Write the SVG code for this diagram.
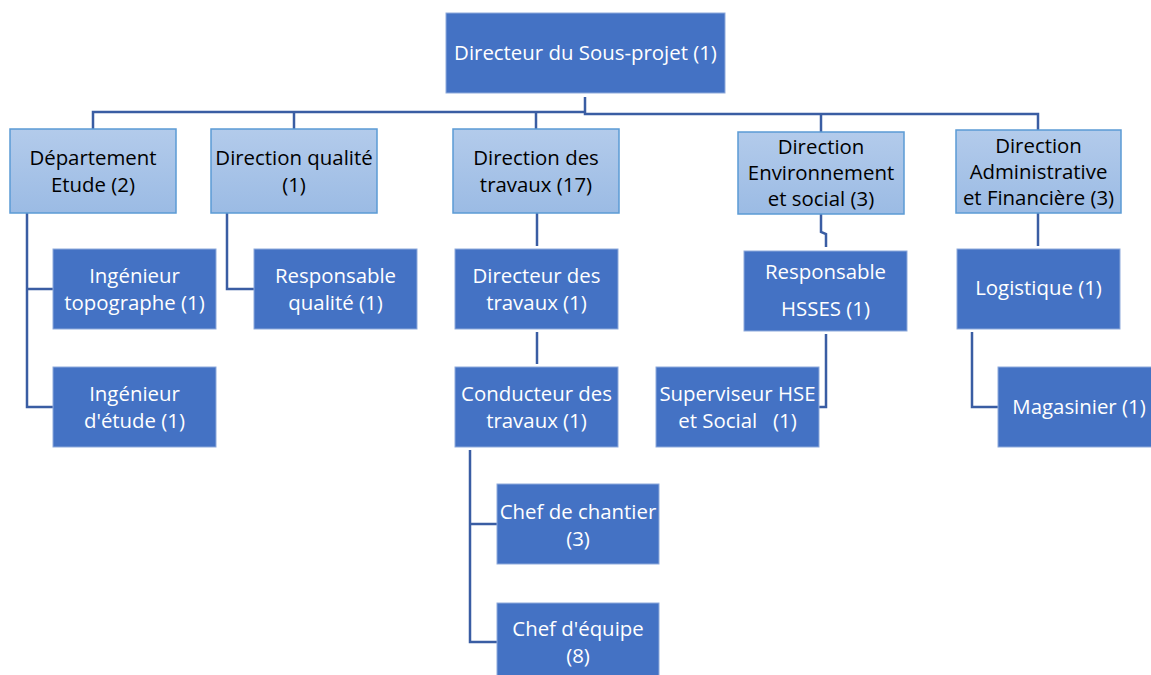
<svg xmlns="http://www.w3.org/2000/svg" width="1151" height="675" viewBox="0 0 1151 675">
<defs>
<linearGradient id="lg" x1="0" y1="0" x2="0" y2="1">
<stop offset="0" stop-color="#B3CBEB"/>
<stop offset="1" stop-color="#9BBBE4"/>
</linearGradient>
<style>
.dk{fill:#4472C4;stroke:#8EAADB;stroke-width:1}
.lt{fill:url(#lg);stroke:#5B9BD5;stroke-width:1.5}
text{font-family:"Open Sans","Liberation Sans",Arial,sans-serif;font-size:20.4px;text-anchor:middle;white-space:pre}
.w{fill:#FFFFFF}
.b{fill:#000000}
.c{fill:none;stroke:#3A5DA3;stroke-width:2.5}
</style>
</defs>
<rect width="1151" height="675" fill="#FFFFFF"/>
<g id="connectors">
<path class="c" d="M585,97 V114 H1038 V130"/>
<path class="c" d="M585,112 H93 V129"/>
<path class="c" d="M294,112 V129"/>
<path class="c" d="M536,112 V129"/>
<path class="c" d="M821,114 V132"/>
<path class="c" d="M27,213 V407 H53 M27,289 H53"/>
<path class="c" d="M227,213 V289 H254"/>
<path class="c" d="M537,213 V246"/>
<path class="c" d="M537,332 V364"/>
<path class="c" d="M470,450 V642 H497 M470,524 H497"/>
<path class="c" d="M821,214 V232 L826,234 V247"/>
<path class="c" d="M826,334 V407 H819"/>
<path class="c" d="M1038,213 V246"/>
<path class="c" d="M972,332 V407 H998"/>
</g>
<g id="n-directeur">
<rect class="dk" x="446" y="13" width="279" height="80"/>
<text class="w" x="585.5" y="60">Directeur du Sous-projet (1)</text>
</g>
<g id="n-dept-etude">
<rect class="lt" x="10" y="129" width="166" height="84"/>
<text class="b" x="93" y="165">Département</text>
<text class="b" x="93" y="192">Etude (2)</text>
</g>
<g id="n-dir-qualite">
<rect class="lt" x="211" y="129" width="166" height="84"/>
<text class="b" x="294" y="165">Direction qualité</text>
<text class="b" x="294" y="192">(1)</text>
</g>
<g id="n-dir-travaux">
<rect class="lt" x="453" y="129" width="166" height="84"/>
<text class="b" x="536" y="165">Direction des</text>
<text class="b" x="536" y="192">travaux (17)</text>
</g>
<g id="n-dir-env">
<rect class="lt" x="738" y="132" width="166" height="82"/>
<text class="b" x="821" y="154">Direction</text>
<text class="b" x="821" y="180">Environnement</text>
<text class="b" x="821" y="206">et social (3)</text>
</g>
<g id="n-dir-admin">
<rect class="lt" x="956" y="130" width="165" height="83"/>
<text class="b" x="1038.5" y="153">Direction</text>
<text class="b" x="1038.5" y="179">Administrative</text>
<text class="b" x="1038.5" y="205">et Financière (3)</text>
</g>
<g id="n-ing-topo">
<rect class="dk" x="53" y="249" width="163" height="80"/>
<text class="w" x="134.5" y="283">Ingénieur</text>
<text class="w" x="134.5" y="310">topographe (1)</text>
</g>
<g id="n-ing-etude">
<rect class="dk" x="53" y="367" width="163" height="80"/>
<text class="w" x="134.5" y="401">Ingénieur</text>
<text class="w" x="134.5" y="428">d'étude (1)</text>
</g>
<g id="n-resp-qualite">
<rect class="dk" x="254" y="249" width="163" height="80"/>
<text class="w" x="335.5" y="283">Responsable</text>
<text class="w" x="335.5" y="310">qualité (1)</text>
</g>
<g id="n-directeur-travaux">
<rect class="dk" x="455" y="249" width="163" height="80"/>
<text class="w" x="536.5" y="283">Directeur des</text>
<text class="w" x="536.5" y="310">travaux (1)</text>
</g>
<g id="n-conducteur">
<rect class="dk" x="455" y="367" width="163" height="80"/>
<text class="w" x="536.5" y="401">Conducteur des</text>
<text class="w" x="536.5" y="428">travaux (1)</text>
</g>
<g id="n-chef-chantier">
<rect class="dk" x="497" y="484" width="162" height="80"/>
<text class="w" x="578" y="519">Chef de chantier</text>
<text class="w" x="578" y="546">(3)</text>
</g>
<g id="n-chef-equipe">
<rect class="dk" x="497" y="603" width="162" height="80"/>
<text class="w" x="578" y="636">Chef d'équipe</text>
<text class="w" x="578" y="663">(8)</text>
</g>
<g id="n-resp-hsses">
<rect class="dk" x="744" y="251" width="163" height="80"/>
<text class="w" x="825.5" y="279">Responsable</text>
<text class="w" x="825.5" y="316">HSSES (1)</text>
</g>
<g id="n-superviseur">
<rect class="dk" x="656" y="367" width="163" height="80"/>
<text class="w" x="737.5" y="401">Superviseur HSE</text>
<text class="w" x="737.5" y="428">et Social   (1)</text>
</g>
<g id="n-logistique">
<rect class="dk" x="957" y="249" width="163" height="80"/>
<text class="w" x="1038.5" y="295">Logistique (1)</text>
</g>
<g id="n-magasinier">
<rect class="dk" x="998" y="367" width="162" height="80"/>
<text class="w" x="1079" y="414">Magasinier (1)</text>
</g>
</svg>
